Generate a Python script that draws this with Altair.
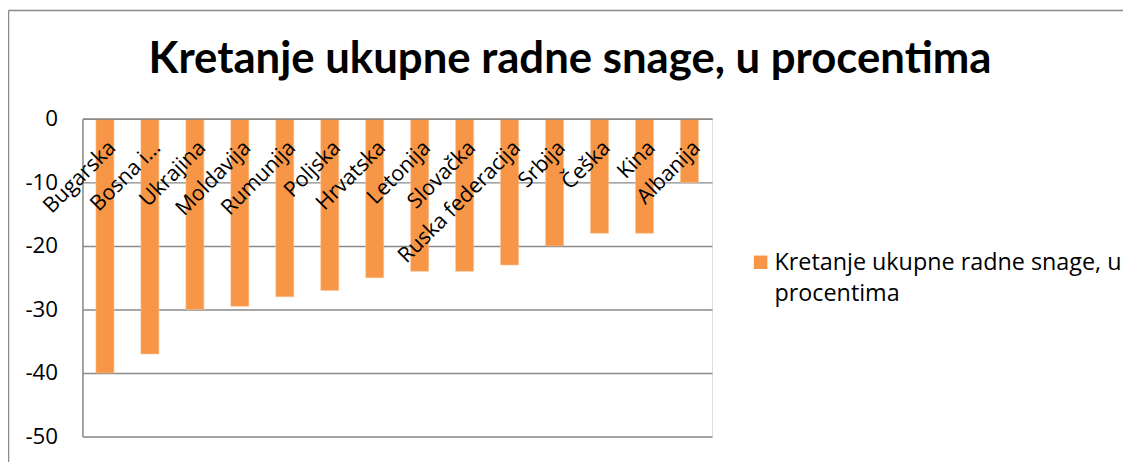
import altair as alt
import pandas as pd

countries = ["Bugarska", "Bosna i Hercegovina", "Ukrajina", "Moldavija", "Rumunija",
             "Poljska", "Hrvatska", "Letonija", "Slovačka", "Ruska federacija",
             "Srbija", "Češka", "Kina", "Albanija"]
values = [-40, -37, -30, -29.5, -28, -27, -25, -24, -24, -23, -20, -18, -18, -10]
series = "Kretanje ukupne radne snage, u procentima"
legend_lines = ["Kretanje ukupne radne snage, u", "procentima"]
title_text = "Kretanje ukupne radne snage, u procentima"
y_ticks = [0, -10, -20, -30, -40, -50]

df = pd.DataFrame({"country": countries, "value": values})
title_df = pd.DataFrame({"title": [title_text]})
legend_df = pd.DataFrame({"series": [series]})

FONT = "Open Sans"
TFONT = "Lato"
GRID = "#8a8a8a"
ORANGE = "#F79646"

bars = alt.Chart(df).mark_bar(color=ORANGE, stroke="#FAC090", strokeWidth=0.6).encode(
    x=alt.X("country:N", sort=countries,
            scale=alt.Scale(paddingInner=0.6, paddingOuter=0.3),
            axis=alt.Axis(orient="bottom", offset=-320, title=None, ticks=False,
                          labelAngle=-45, labelAlign="right", labelBaseline="top",
                          labelPadding=18, labelFontSize=21.5, labelFont=FONT,
                          labelColor="black", domainColor=GRID, domainWidth=1.5,
                          labelExpr="datum.label == 'Bosna i Hercegovina' ? 'Bosna i…' : datum.label",
                          labelOverlap=False, labelLimit=300, zindex=1)),
    y=alt.Y("value:Q", scale=alt.Scale(domain=[-50, 0], nice=False),
            axis=alt.Axis(values=y_ticks, title=None, ticks=False,
                          labelExpr="'' + datum.value",
                          labelPadding=25, labelFontSize=22.5, labelFont=FONT,
                          labelColor="black", domainColor=GRID, domainWidth=1.5,
                          gridColor=GRID, gridWidth=1.5, zindex=0)),
)

frame_left = alt.Chart(title_df).mark_rule(color=GRID, strokeWidth=1.5).encode(
    x=alt.value(-74.5), y=alt.value(-109), y2=alt.value(350))
frame_top = alt.Chart(title_df).mark_rule(color=GRID, strokeWidth=1.5).encode(
    x=alt.value(-74.5), x2=alt.value(1060), y=alt.value(-109))

title = alt.Chart(title_df).mark_text(font=TFONT, fontSize=44, fontWeight="bold",
                                      color="black", align="center",
                                      baseline="alphabetic").encode(
    x=alt.value(491), y=alt.value(-46), text="title:N")

legend_sym = alt.Chart(legend_df).mark_square(size=185, color=ORANGE, opacity=1).encode(
    x=alt.value(683), y=alt.value(144.5))
legend_txt = alt.Chart(legend_df).mark_text(font=FONT, fontSize=23.5, color="black",
                                           align="left", baseline="alphabetic",
                                           lineHeight=31).encode(
    x=alt.value(697), y=alt.value(152), text=alt.value(legend_lines))

chart = alt.layer(bars, frame_left, frame_top, title, legend_sym, legend_txt).properties(
    width=634, height=320,
    padding={"left": 75, "top": 110, "right": 414, "bottom": 24},
    autosize=alt.AutoSizeParams(type="none"),
).configure_view(stroke=None).configure(background="white")

chart.save("out.html", embed_options={"renderer": "svg", "actions": False})
